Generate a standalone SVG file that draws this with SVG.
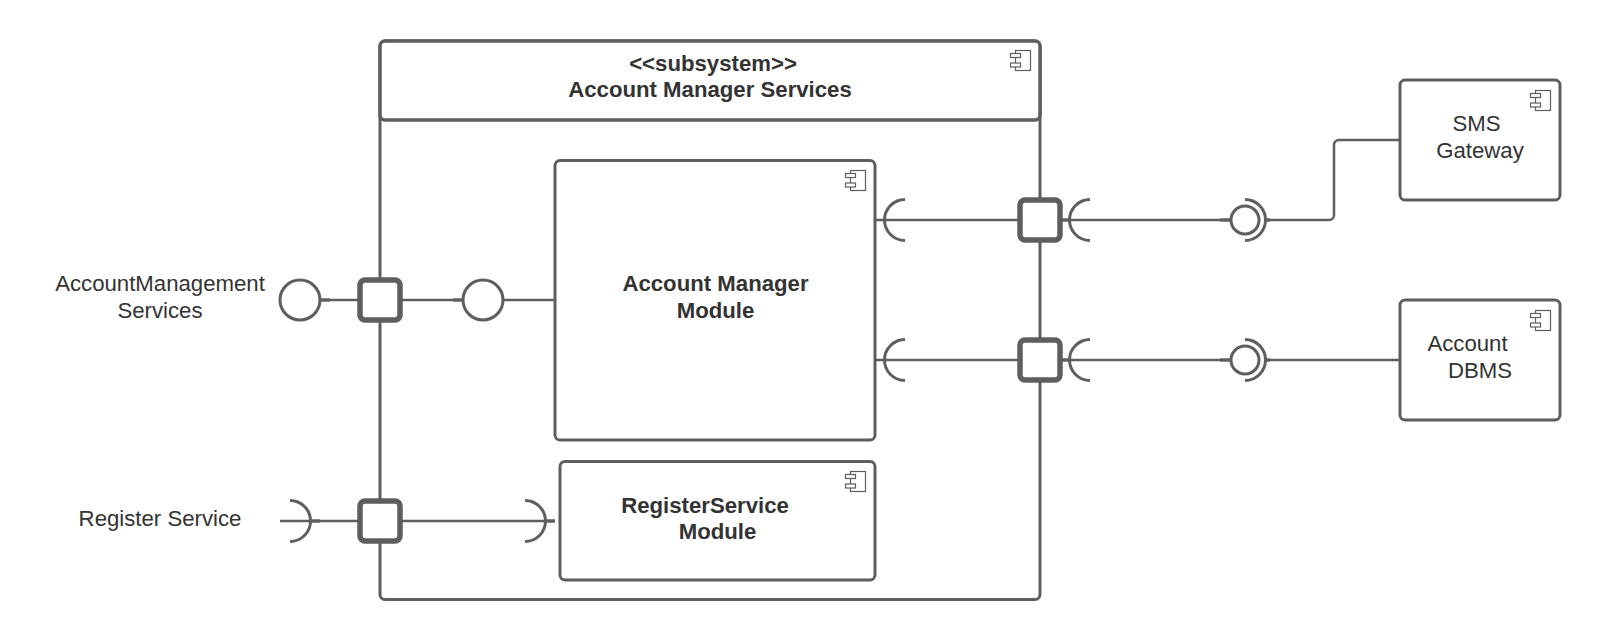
<svg xmlns="http://www.w3.org/2000/svg" width="1600" height="640" viewBox="0 0 1600 640">
<style>
text{font-family:"Liberation Sans",Arial,sans-serif;font-size:22.2px;fill:#333}
.b{font-weight:700}
.box{fill:#fff;stroke:#5e5e5e;stroke-width:3}
.sub{fill:#fff;stroke:#5e5e5e;stroke-width:3.5}
.port{fill:#fff;stroke:#5e5e5e;stroke-width:5.5}
.ln{fill:none;stroke:#5e5e5e;stroke-width:2.5}
.stub{fill:none;stroke:#5e5e5e;stroke-width:3.5;opacity:.85}
.arc{fill:none;stroke:#5e5e5e;stroke-width:3}
.ball{fill:#fff;stroke:#5e5e5e;stroke-width:3}
.ic{fill:#fff;stroke:#5e5e5e;stroke-width:1.2}
</style>
<defs>
<g id="icon"><rect class="ic" x="5.500" y="0.500" width="15" height="20"/><rect class="ic" x="0.500" y="3.500" width="10" height="4"/><rect class="ic" x="0.500" y="13" width="10" height="4"/></g>
</defs>
<g id="subsystem">
<rect class="box" x="380" y="41" width="660" height="558.500" rx="5"/>
<rect class="sub" x="380" y="41" width="660" height="79" rx="5"/>
<use href="#icon" x="1010" y="50"/>
<text class="b" text-anchor="middle" x="713" y="70.500">&lt;&lt;subsystem&gt;&gt;</text>
<text class="b" text-anchor="middle" x="710" y="97">Account Manager Services</text>
</g>
<g id="connectors">
<path class="ln" d="M320 300H380H463M503 300H555"/>
<path class="ln" d="M280 521H380H555"/>
<path class="ln" d="M876 220H1040H1230"/>
<path class="ln" d="M876 360H1040H1230"/>
<path class="ln" d="M1266 220H1329a5 5 0 0 0 5-5V145a5 5 0 0 1 5-5H1400"/>
<path class="ln" d="M1266 360H1400"/>
<path class="stub" d="M320 300H330M453 300H463M310 521H320M546 521H555M1062 220H1069M1062 360H1069M1220 220H1230M1220 360H1230M1264 220H1270M1264 360H1270"/>
</g>
<g id="am-module"><rect class="box" x="555" y="160.500" width="320" height="279.500" rx="5"/><use href="#icon" x="845" y="170"/>
<text class="b" text-anchor="middle" x="715.500" y="291">Account Manager</text><text class="b" text-anchor="middle" x="715.500" y="317.500">Module</text></g>
<g id="rs-module"><rect class="box" x="560" y="461.500" width="315" height="118.500" rx="5"/><use href="#icon" x="845" y="471"/>
<text class="b" text-anchor="middle" x="705" y="513">RegisterService</text><text class="b" text-anchor="middle" x="717.500" y="539">Module</text></g>
<g id="sms"><rect class="box" x="1400" y="80" width="160" height="120" rx="5"/><use href="#icon" x="1530" y="90"/>
<text text-anchor="middle" x="1476.500" y="131">SMS</text><text text-anchor="middle" x="1480" y="157.500">Gateway</text></g>
<g id="dbms"><rect class="box" x="1400" y="300" width="160" height="120" rx="5"/><use href="#icon" x="1530" y="310"/>
<text text-anchor="middle" x="1467.500" y="350.500">Account</text><text text-anchor="middle" x="1480" y="377.500">DBMS</text></g>
<g id="port-am"><rect class="port" x="360" y="280" width="40" height="40" rx="5"/></g>
<g id="port-rs"><rect class="port" x="360" y="501" width="40" height="40" rx="5"/></g>
<g id="port-sms"><rect class="port" x="1020" y="200" width="40" height="40" rx="5"/></g>
<g id="port-db"><rect class="port" x="1020" y="340" width="40" height="40" rx="5"/></g>
<g id="ball-am-ext"><circle class="ball" cx="300" cy="300" r="20"/></g>
<text id="label-am" text-anchor="middle" x="160" y="291">AccountManagement</text>
<text text-anchor="middle" x="160" y="317.500">Services</text>
<g id="ball-am-int"><circle class="ball" cx="483" cy="300" r="20"/></g>
<g id="socket-rs-ext"><path class="arc" d="M290 500.500a20.500 20.500 0 0 1 0 41"/></g>
<text id="label-rs" text-anchor="middle" x="160" y="526">Register Service</text>
<g id="socket-rs-int"><path class="arc" d="M525 500.500a20.500 20.500 0 0 1 0 41"/></g>
<g id="sock-am-sms"><path class="arc" d="M905 199.500a20.500 20.500 0 0 0 0 41"/></g>
<g id="sock-port-sms"><path class="arc" d="M1090 199.500a20.500 20.500 0 0 0 0 41"/></g>
<g id="sock-am-db"><path class="arc" d="M905 339.500a20.500 20.500 0 0 0 0 41"/></g>
<g id="sock-port-db"><path class="arc" d="M1090 339.500a20.500 20.500 0 0 0 0 41"/></g>
<g id="lolli-sms"><circle class="ball" cx="1245" cy="220" r="14"/><path class="arc" d="M1245 199.500a20.500 20.500 0 0 1 0 41"/></g>
<g id="lolli-db"><circle class="ball" cx="1245" cy="360" r="14"/><path class="arc" d="M1245 339.500a20.500 20.500 0 0 1 0 41"/></g>
</svg>
